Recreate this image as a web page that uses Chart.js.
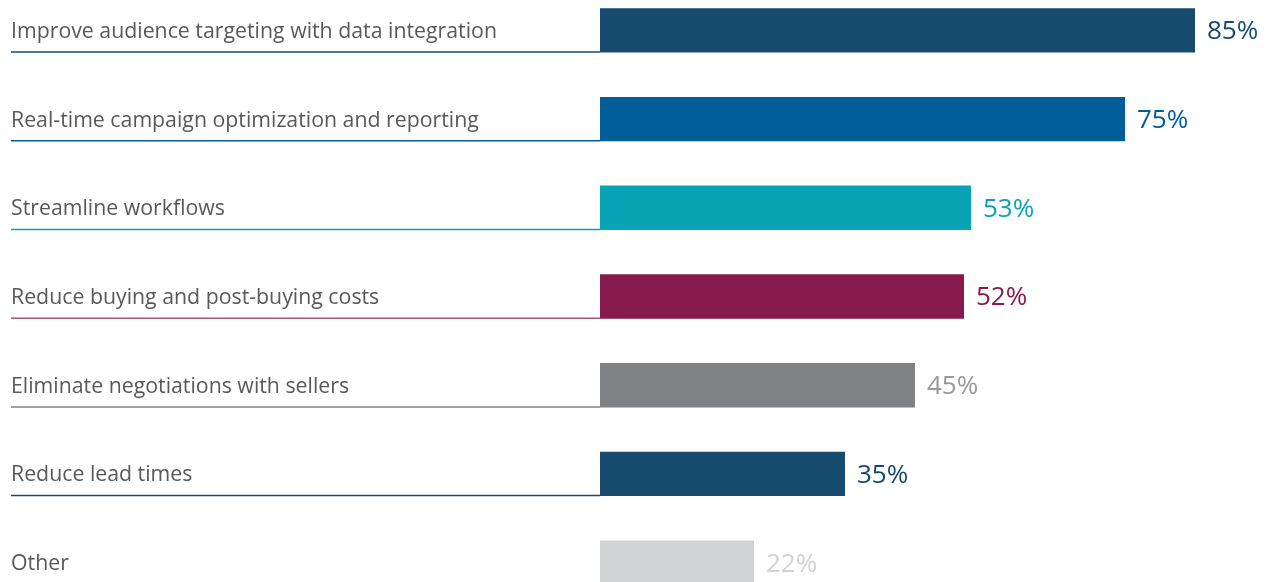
<!DOCTYPE html>
<html>
<head>
<meta charset="utf-8">
<script src="https://cdn.jsdelivr.net/npm/chart.js@4/dist/chart.umd.min.js"></script>
<style>
  html, body { margin: 0; padding: 0; background: #fff; overflow: hidden; }
  #wrap { position: absolute; left: 0; top: -14px; width: 1270px; height: 621px; }
</style>
</head>
<body>
<div id="wrap"><canvas id="chart"></canvas></div>
<script>
// ── Data ──────────────────────────────────────────────────────────────────────
const categories = [
  'Improve audience targeting with data integration',
  'Real-time campaign optimization and reporting',
  'Streamline workflows',
  'Reduce buying and post-buying costs',
  'Eliminate negotiations with sellers',
  'Reduce lead times',
  'Other'
];
const values = [85, 75, 53, 52, 45, 35, 22];

// ── Theme ─────────────────────────────────────────────────────────────────────
const barColors   = ['#174b6e', '#005d9a', '#08a4b5', '#881b4d', '#808184', '#174b6e', '#d1d2d4'];
const valueColors = ['#174b6e', '#005d9a', '#08a4b5', '#881b4d', '#98999c', '#174b6e', '#d1d2d4'];
const lineColors  = ['#174b6e', '#005d9a', '#08a4b5', '#a3557a', '#808184', '#174b6e', '#d1d2d4'];
const FONT = "'Open Sans', sans-serif";

// Labels, underlines and value tags drawn from the scales
const decor = {
  id: 'decor',
  afterDatasetsDraw(chart) {
    const { ctx } = chart;
    const meta = chart.getDatasetMeta(0);
    ctx.save();
    meta.data.forEach((bar, i) => {
      const y = bar.y;
      const half = bar.height / 2;
      // category label
      ctx.font = '21.3px ' + FONT;
      ctx.fillStyle = '#58595b';
      ctx.textAlign = 'left';
      ctx.textBaseline = 'middle';
      ctx.fillText(categories[i], 11, y + 1.5);
      // underline
      ctx.strokeStyle = lineColors[i];
      ctx.lineWidth = 1.5;
      ctx.beginPath();
      ctx.moveTo(11, y + half - 0.5);
      ctx.lineTo(bar.base, y + half - 0.5);
      ctx.stroke();
      // value
      ctx.font = '26px ' + FONT;
      ctx.fillStyle = valueColors[i];
      ctx.fillText(values[i] + '%', bar.x + 12, y + 1.5);
    });
    ctx.restore();
  }
};

new Chart(document.getElementById('chart'), {
  type: 'bar',
  data: {
    labels: categories,
    datasets: [{
      data: values,
      backgroundColor: barColors,
      borderWidth: 0,
      barPercentage: 0.5,
      categoryPercentage: 1
    }]
  },
  options: {
    indexAxis: 'y',
    responsive: true,
    maintainAspectRatio: false,
    animation: false,
    layout: { padding: { left: 600, right: 5, top: 0, bottom: 0 } },
    plugins: { legend: { display: false }, tooltip: { enabled: false } },
    scales: {
      x: { display: false, min: 0, max: 95 },
      y: { display: false }
    }
  },
  plugins: [decor]
});
</script>
</body>
</html>
